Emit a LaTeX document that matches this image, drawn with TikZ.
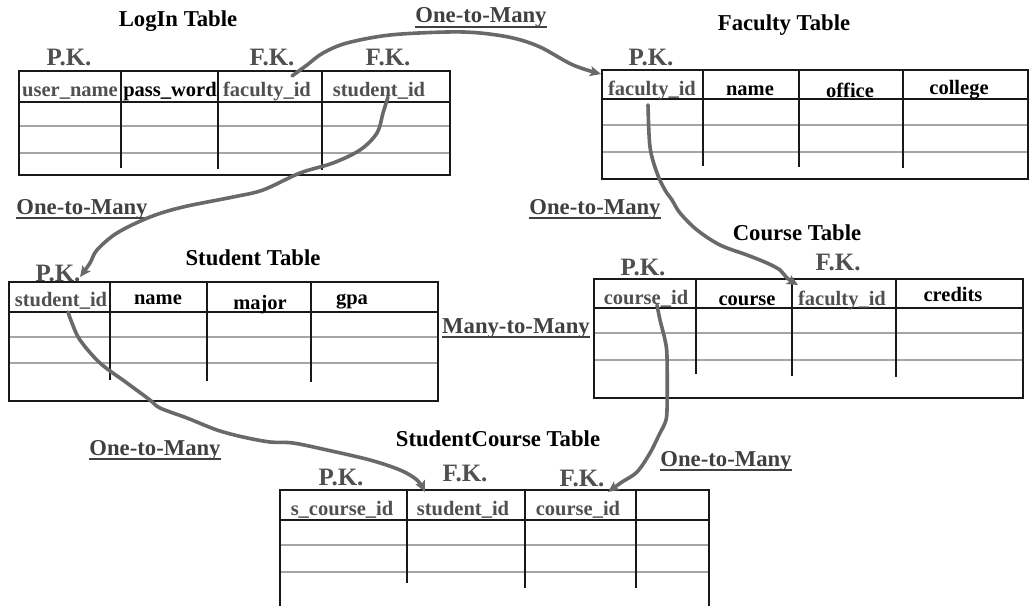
\documentclass[tikz,border=0pt]{standalone}
\usepackage{fontspec}
\setmainfont{Liberation Serif}
\usetikzlibrary{arrows.meta}
\definecolor{keyclr}{RGB}{80,80,80}
\definecolor{relclr}{RGB}{64,64,64}
\definecolor{rowclr}{RGB}{165,165,165}
\definecolor{linkclr}{RGB}{105,105,105}
\definecolor{edgeclr}{RGB}{25,25,25}
\begin{document}
\begin{tikzpicture}[x=1pt,y=-1pt,
  title/.style={font=\fontsize{22.7}{26}\selectfont\bfseries, text=black, inner sep=0pt, anchor=base},
  keytag/.style={font=\fontsize{25}{28}\selectfont\bfseries, text=keyclr, inner sep=0pt, anchor=base},
  head/.style={font=\fontsize{20.5}{24}\selectfont\bfseries, text=black, inner sep=0pt, anchor=base},
  keyhead/.style={head, text=keyclr},
  rel/.style={font=\fontsize{22.7}{26}\selectfont\bfseries, text=relclr, inner sep=0pt, anchor=base},
  uline/.style={draw=relclr, line width=2.2pt},
  frame/.style={draw=edgeclr, line width=2.2pt},
  rowline/.style={draw=rowclr, line width=1.8pt},
  colline/.style={draw=edgeclr, line width=1.8pt},
  link/.style={draw=linkclr, line width=3.6pt, line join=round, line cap=round,
    -{Stealth[length=11pt,width=10pt,inset=2.5pt]}}
]
\useasboundingbox (0,0) rectangle (1030,605);

% ---------- LogIn table ----------
\node[title] (tLog) at (178,26) {LogIn Table};
\node[keytag] (pkLog) at (69,65) {P.K.};
\node[keytag] (fkLogA) at (272,65) {F.K.};
\node[keytag] (fkLogB) at (388,65) {F.K.};
\draw[rowline] (19,126) -- (450,126) (19,153) -- (450,153);
\draw[colline] (121,71) -- (121,168) (218,71) -- (218,169) (322,71) -- (322,170);
\draw[frame] (19,102) -- (450,102);
\draw[frame] (19,71) rectangle (450,175);
\node[keyhead] (logUser) at (70,96) {user\_name};
\node[head] (logPass) at (170,96) {pass\_word};
\node[keyhead] (logFac) at (267,96) {faculty\_id};
\node[keyhead] (logStu) at (379,96) {student\_id};

% ---------- Faculty table ----------
\node[title] (tFac) at (784,30) {Faculty Table};
\node[keytag] (pkFac) at (651,65) {P.K.};
\draw[rowline] (602,125) -- (1028,125) (602,152) -- (1028,152);
\draw[colline] (703,70) -- (703,166) (799,70) -- (799,167) (903,70) -- (903,168);
\draw[frame] (602,99) -- (1028,99);
\draw[frame] (602,70) rectangle (1028,179);
\node[keyhead] (facId) at (652,95) {faculty\_id};
\node[head] (facName) at (750,95) {name};
\node[head] (facOffice) at (850,97) {office};
\node[head] (facCollege) at (959,94) {college};

% ---------- Student table ----------
\node[title] (tStu) at (253,265) {Student Table};
\node[keytag] (pkStu) at (58,281) {P.K.};
\draw[rowline] (9,337) -- (438,337) (9,363) -- (438,363);
\draw[colline] (110,282) -- (110,380) (207,282) -- (207,381) (311,282) -- (311,382);
\draw[frame] (9,312) -- (438,312);
\draw[frame] (9,282) rectangle (438,401);
\node[keyhead] (stuId) at (61,306) {student\_id};
\node[head] (stuName) at (158,304) {name};
\node[head] (stuMajor) at (260,309) {major};
\node[head] (stuGpa) at (352,304) {gpa};

% ---------- Course table ----------
\node[title] (tCou) at (797,240) {Course Table};
\node[keytag] (pkCou) at (643,275) {P.K.};
\node[keytag] (fkCou) at (838,270) {F.K.};
\draw[rowline] (594,333) -- (1023,333) (594,360) -- (1023,360);
\draw[colline] (696,279) -- (696,374) (792,279) -- (792,376) (896,279) -- (896,377);
\draw[frame] (594,308) -- (1023,308);
\draw[frame] (594,279) rectangle (1023,398);
\node[keyhead] (couId) at (646,304) {course\_id};
\node[head] (couName) at (747,305) {course};
\node[keyhead] (couFac) at (842,305) {faculty\_id};
\node[head] (couCred) at (953,301) {credits};

% ---------- StudentCourse table (runs off the bottom edge) ----------
\node[title] (tSC) at (498,446) {StudentCourse Table};
\node[keytag] (pkSC) at (341,485) {P.K.};
\node[keytag] (fkSCA) at (465,481) {F.K.};
\node[keytag] (fkSCB) at (582,486) {F.K.};
\draw[rowline] (280,545) -- (709,545) (280,572) -- (709,572);
\draw[colline] (407,490) -- (407,583) (525,490) -- (525,588) (636,490) -- (636,588);
\draw[frame] (280,520) -- (709,520);
\draw[frame] (280,606) -- (280,490) -- (709,490) -- (709,606);
\node[keyhead] (scId) at (342,515) {s\_course\_id};
\node[keyhead] (scStu) at (463,515) {student\_id};
\node[keyhead] (scCou) at (578,515) {course\_id};

% ---------- relationship labels ----------
\node[rel] (r1) at (481,23) {One-to-Many};
\node[rel] (r2) at (82,214) {One-to-Many};
\node[rel] (r3) at (595,214) {One-to-Many};
\node[rel] (r4) at (516,333) {Many-to-Many};
\node[rel] (r5) at (155,455) {One-to-Many};
\node[rel] (r6) at (726,466) {One-to-Many};
\foreach \r in {r1,r2,r3,r4,r5,r6}
  \draw[uline] ([yshift=-4pt]\r.base west) -- ([yshift=-4pt]\r.base east);

% ---------- link end points ----------
\coordinate (aS) at (292,76);   \coordinate (aE) at (601,74);
\coordinate (bS) at (388,97);   \coordinate (bE) at (80,277);
\coordinate (cS) at (648,105);  \coordinate (cE) at (798,285);
\coordinate (dS) at (68,312);   \coordinate (dE) at (425,492);
\coordinate (eS) at (657,305);  \coordinate (eE) at (608,492);

% ---------- links ----------
\draw[link] plot[smooth, tension=0.55] coordinates {(aS) (307,65) (323,53) (347,43) (390,35)
  (447,32) (480,33) (513,38) (540,47) (573,65) (aE)};
\draw[link] plot[smooth, tension=0.55] coordinates {(bS) (383,113) (377,133) (360,150) (333,163)
  (300,173) (263,190) (233,197) (183,207) (150,217) (117,233) (97,250) (90,263) (bE)};
\draw[link] plot[smooth, tension=0.55] coordinates {(cS) (650,147) (657,173) (665,190) (672,200)
  (680,213) (697,230) (720,245) (747,255) (767,263) (780,270) (787,278) (cE)};
\draw[link] plot[smooth, tension=0.55] coordinates {(dS) (72,323) (80,340) (100,363) (127,383)
  (150,400) (160,408) (187,418) (217,430) (243,437) (270,442) (293,443) (327,450)
  (370,460) (400,470) (417,480) (dE)};
\draw[link] plot[smooth, tension=0.55] coordinates {(eS) (660,320) (665,340) (667,357) (667,410)
  (665,423) (660,433) (650,453) (637,472) (622,482) (eE)};
\end{tikzpicture}
\end{document}
